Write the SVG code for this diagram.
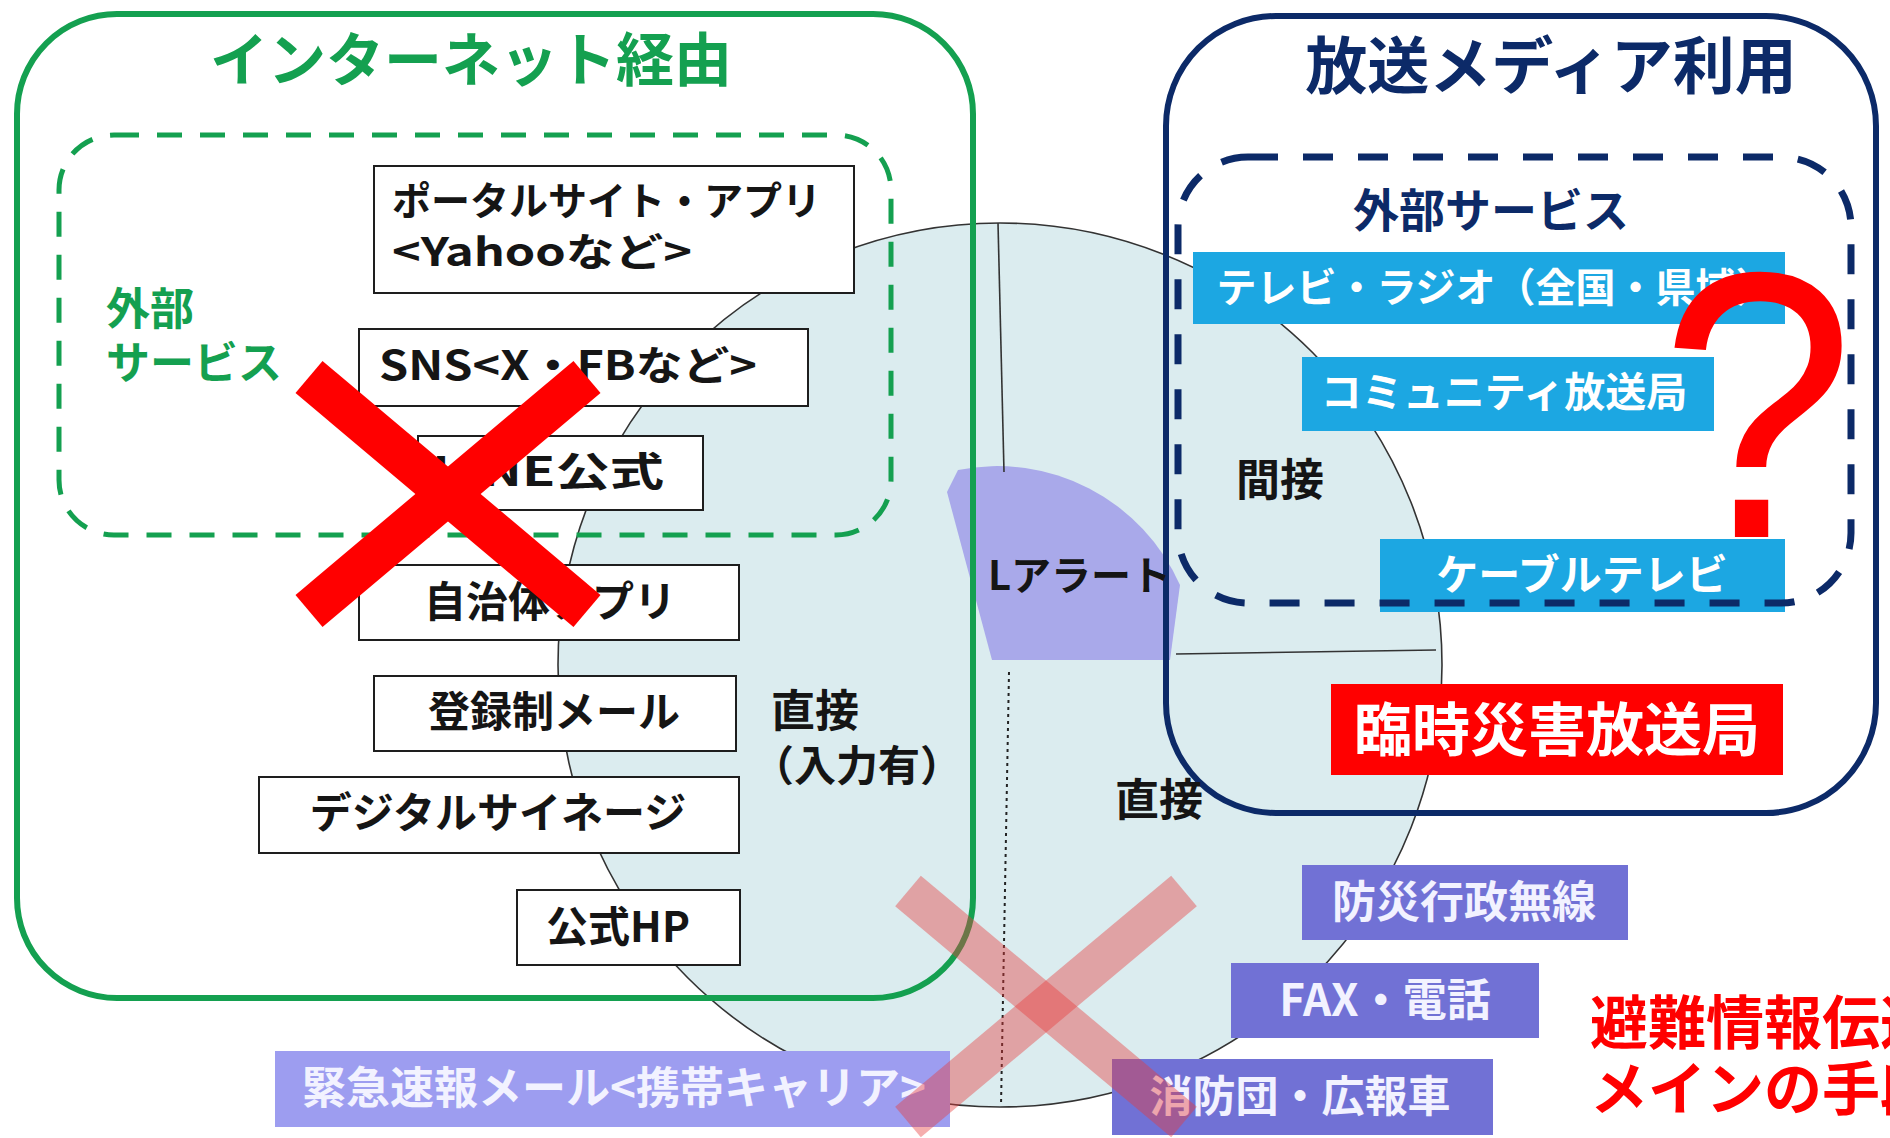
<svg xmlns="http://www.w3.org/2000/svg" width="1890" height="1138" viewBox="0 0 1890 1138">
<defs>
<style>
.jp{font-family:"Noto Sans CJK JP","Noto Sans",sans-serif;font-weight:700}
.blk{fill:#151515}
.wt{fill:#ffffff}
.wp{fill:#f2f2ff}
.wbox{fill:#ffffff;stroke:#1e1e1e;stroke-width:2}
.cyan{fill:#1ca7e2}
.pur{fill:#7171d5}
.mid{text-anchor:middle}
.ln{stroke:#333;stroke-width:1.6;fill:none}
</style>
</defs>
<rect width="1890" height="1138" fill="#ffffff"/>

<g id="background">
  <circle cx="1000" cy="665" r="442" fill="#dbecef" stroke="#333" stroke-width="1.6"/>
  <path d="M 992 660 L 947 492 L 958 470 A 200 200 0 0 1 1180 585 L 1170 660 Z" fill="#a9a9ea"/>
</g>

<g id="connectors">
  <line class="ln" x1="998" y1="223" x2="1004" y2="472"/>
  <line x1="1009" y1="672" x2="1001" y2="1106" stroke="#222" stroke-width="2" stroke-dasharray="3 4"/>
  <line class="ln" x1="1176" y1="654" x2="1436" y2="650"/>
</g>

<g id="internet-group">
  <rect x="17" y="14" width="956" height="984" rx="100" ry="100" fill="none" stroke="#14a050" stroke-width="6"/>
  <text class="jp mid" x="471" y="81" font-size="58" fill="#14a050">インターネット経由</text>
  <rect x="59" y="135" width="832" height="400" rx="55" ry="55" fill="none" stroke="#14a050" stroke-width="5" stroke-dasharray="25 18"/>
  <text class="jp" x="106" y="325" font-size="44" fill="#14a050">外部</text>
  <text class="jp" x="106" y="379" font-size="44" fill="#14a050">サービス</text>
</g>

<g id="broadcast-group">
  <rect x="1166" y="16" width="710" height="797" rx="110" ry="110" fill="none" stroke="#0c2a68" stroke-width="6"/>
  <text class="jp mid" x="1551" y="89" font-size="62" fill="#0c2a68">放送メディア利用</text>
  <text class="jp mid" x="1491" y="227" font-size="46" fill="#0c2a68">外部サービス</text>
</g>

<g id="node-portal">
  <rect class="wbox" x="374" y="166" width="480" height="127"/>
  <text class="jp blk" x="392" y="215" font-size="39">ポータルサイト・アプリ</text>
  <text class="jp blk" x="392" y="266" font-size="39" textLength="300" lengthAdjust="spacingAndGlyphs">&lt;Yahooなど&gt;</text>
</g>
<g id="node-sns">
  <rect class="wbox" x="359" y="329" width="449" height="77"/>
  <text class="jp blk" x="379" y="380" font-size="40" textLength="378" lengthAdjust="spacingAndGlyphs">SNS&lt;X・FBなど&gt;</text>
</g>
<g id="node-line">
  <rect class="wbox" x="418" y="436" width="285" height="74"/>
  <text class="jp blk" x="432" y="486" font-size="40" textLength="232" lengthAdjust="spacingAndGlyphs">LINE公式</text>
</g>
<g id="node-app">
  <rect class="wbox" x="359" y="565" width="380" height="75"/>
  <text class="jp blk mid" x="550" y="617" font-size="42">自治体アプリ</text>
</g>
<g id="node-mail">
  <rect class="wbox" x="374" y="676" width="362" height="75"/>
  <text class="jp blk mid" x="554" y="727" font-size="42">登録制メール</text>
</g>
<g id="node-signage">
  <rect class="wbox" x="259" y="777" width="480" height="76"/>
  <text class="jp blk mid" x="498" y="828" font-size="42">デジタルサイネージ</text>
</g>
<g id="node-hp">
  <rect class="wbox" x="517" y="890" width="223" height="75"/>
  <text class="jp blk mid" x="618" y="942" font-size="42">公式HP</text>
</g>

<g id="label-direct-input">
  <text class="jp blk" x="771" y="727" font-size="44">直接</text>
  <text class="jp blk" x="752" y="781" font-size="42">（入力有）</text>
</g>
<g id="label-indirect">
  <text class="jp blk" x="1236" y="496" font-size="44">間接</text>
</g>
<g id="label-direct">
  <text class="jp blk" x="1115" y="816" font-size="44">直接</text>
</g>
<g id="node-lalert">
  <text class="jp blk" x="988" y="590" font-size="40">Lアラート</text>
</g>

<g id="node-tv">
  <rect class="cyan" x="1193" y="252" width="592" height="72"/>
  <text class="jp wt mid" x="1496" y="302" font-size="40">テレビ・ラジオ（全国・県域）</text>
</g>
<g id="node-community">
  <rect class="cyan" x="1302" y="357" width="412" height="74"/>
  <text class="jp wt mid" x="1504" y="407" font-size="41">コミュニティ放送局</text>
</g>
<g id="node-cable">
  <rect class="cyan" x="1380" y="539" width="405" height="73"/>
  <text class="jp wt mid" x="1582" y="590" font-size="42">ケーブルテレビ</text>
</g>
<rect x="1178" y="157" width="673" height="446" rx="70" ry="70" fill="none" stroke="#0c2a68" stroke-width="7" stroke-dasharray="30 25"/>

<g id="node-rinji">
  <rect x="1331" y="684" width="452" height="91" fill="#ff0000"/>
  <text class="jp wt mid" x="1557" y="751" font-size="58">臨時災害放送局</text>
</g>

<g id="node-bousai">
  <rect class="pur" x="1302" y="865" width="326" height="75"/>
  <text class="jp wp mid" x="1464" y="918" font-size="44">防災行政無線</text>
</g>
<g id="node-fax">
  <rect class="pur" x="1231" y="963" width="308" height="75"/>
  <text class="jp wp mid" x="1385" y="1016" font-size="44">FAX・電話</text>
</g>
<g id="node-fire">
  <rect class="pur" x="1112" y="1059" width="381" height="76"/>
  <text class="jp wp mid" x="1300" y="1112" font-size="43">消防団・広報車</text>
</g>
<g id="node-emergency-mail">
  <rect x="275" y="1051" width="675" height="76" fill="#9d9df0"/>
  <text class="jp wp mid" x="614" y="1104" font-size="44">緊急速報メール&lt;携帯キャリア&gt;</text>
</g>

<g id="note">
  <text class="jp" x="1590" y="1044" font-size="58" fill="#ff0000">避難情報伝達</text>
  <text class="jp" x="1590" y="1110" font-size="58" fill="#ff0000">メインの手段</text>
</g>

<g id="marks">
  <g stroke="#ff0000" stroke-width="42">
    <line x1="309" y1="377" x2="587" y2="611"/>
    <line x1="587" y1="377" x2="309" y2="611"/>
  </g>
  <g stroke="#e83c3c" stroke-width="40" stroke-opacity="0.42">
    <line x1="908" y1="891" x2="1184" y2="1122"/>
    <line x1="1184" y1="891" x2="908" y2="1122"/>
  </g>
  <text transform="translate(1685,0) scale(0.92,1)" x="-27" y="537" font-family="Liberation Sans, Arial, sans-serif" font-size="380" fill="#ff0000">?</text>
</g>
</svg>
